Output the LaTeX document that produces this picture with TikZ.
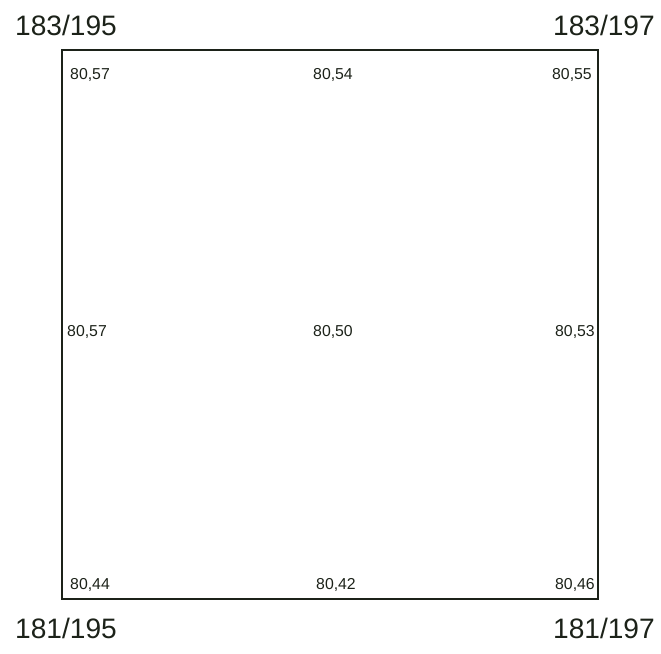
\documentclass[tikz,border=0pt]{standalone}
\usepackage{fontspec}
\setmainfont{Liberation Sans}
\usetikzlibrary{positioning}
\definecolor{ink}{HTML}{1C2219}

\begin{document}
\begin{tikzpicture}[x=1cm,y=1cm,
    spot/.style={inner sep=0pt, text=ink, font=\fontsize{13.5}{15}\selectfont},
    corner/.style={inner sep=0pt, text=ink, font=\fontsize{24}{28}\selectfont}]
    \useasboundingbox (0,0) rectangle (19.83,19.59);
    % Nodes
    \node[draw=ink, line width=1.6pt, minimum width=16.08cm, minimum height=16.47cm, inner sep=0pt] (plot) at (9.9,9.855) {};
    \node[corner, anchor=west] (nw) at (0.45,18.84) {183/195};
    \node[corner, anchor=east] (ne) at (19.65,18.84) {183/197};
    \node[corner, anchor=west] (sw) at (0.45,0.75) {181/195};
    \node[corner, anchor=east] (se) at (19.65,0.75) {181/197};

    % Heights
    \node[spot, anchor=west] (h1) at (2.1,17.34) {80,57};
    \node[spot] (h2) at (9.99,17.34) {80,54};
    \node[spot, anchor=east] (h3) at (17.76,17.34) {80,55};
    \node[spot, anchor=west] (h4) at (2.01,9.63) {80,57};
    \node[spot] (h5) at (9.99,9.63) {80,50};
    \node[spot, anchor=east] (h6) at (17.85,9.63) {80,53};
    \node[spot, anchor=west] (h7) at (2.1,2.04) {80,44};
    \node[spot] (h8) at (10.08,2.04) {80,42};
    \node[spot, anchor=east] (h9) at (17.85,2.04) {80,46};
\end{tikzpicture}
\end{document}
